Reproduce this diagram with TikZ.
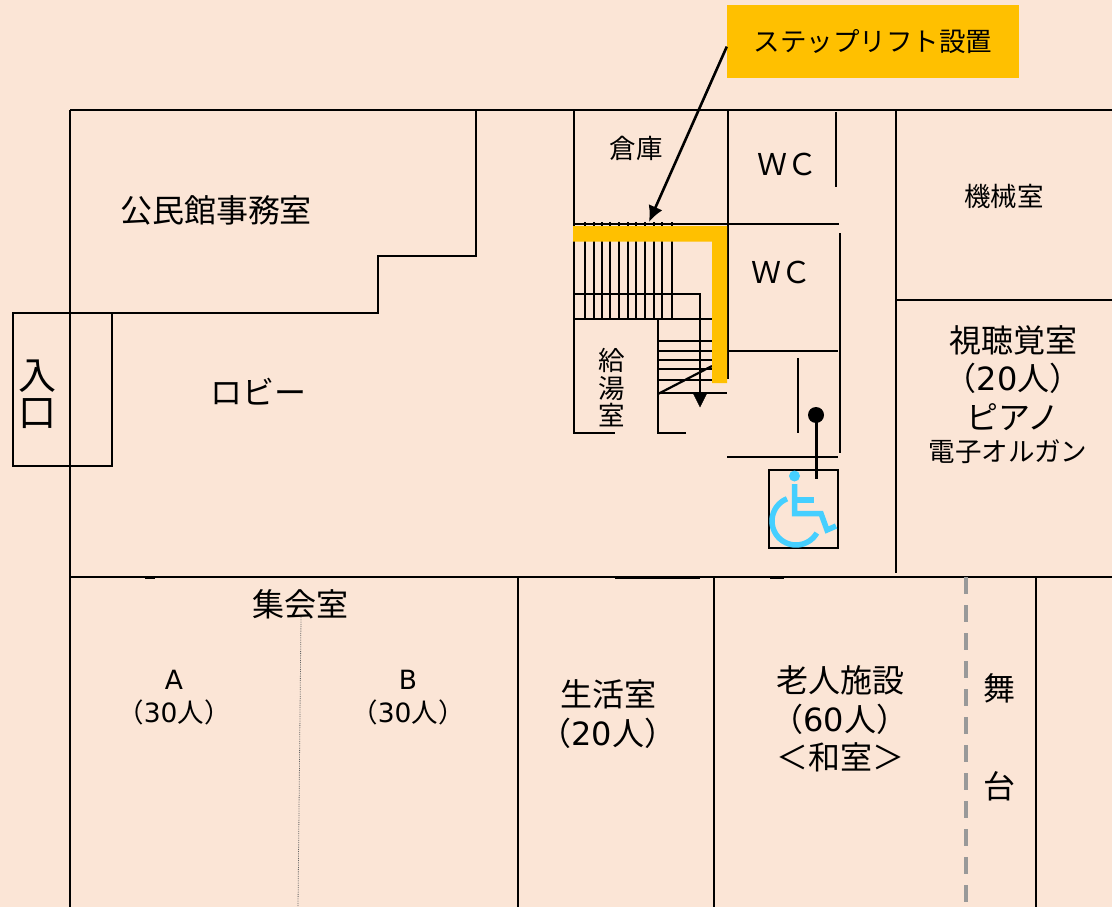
\documentclass[tikz,border=0pt]{standalone}
\usepackage{fontspec}
\usetikzlibrary{arrows.meta}
\setmainfont{DejaVu Sans}
\newfontfamily\jp{Noto Sans CJK JP}
\newcommand{\zlp}{\symbol{"FF08}}
\newcommand{\zrp}{\symbol{"FF09}}
\newcommand{\zlt}{\symbol{"FF1C}}
\newcommand{\zgt}{\symbol{"FF1E}}
\newcommand{\zwc}{\symbol{"FF37}\symbol{"FF23}}
\definecolor{floorbg}{HTML}{FBE5D6}
\definecolor{liftcol}{HTML}{FFC000}
\definecolor{chaircol}{HTML}{45CFFF}
\tikzset{
	wall/.style={black,line width=2.5pt},
	stairline/.style={black,line width=2.2pt},
	roomxl/.style={inner sep=0pt,align=center,font=\jp\fontsize{38}{37}\selectfont},
	rooml/.style={inner sep=0pt,align=center,font=\jp\fontsize{32}{38.5}\selectfont},
	roomm/.style={inner sep=0pt,align=center,font=\jp\fontsize{26.5}{33}\selectfont},
	roomwc/.style={inner sep=0pt,font=\jp\fontsize{30}{30}\selectfont},
	chair/.style={chaircol,line width=5.5pt}
}
\begin{document}
\begin{tikzpicture}[x=1pt,y=-1pt]
	\useasboundingbox (0,0) rectangle (1112,907);
	\fill[floorbg] (0,0) rectangle (1112,907);
	\draw[wall](70,110)--(1112,110);
	\draw[wall](70,110)--(70,907);
	\draw[wall](476,110)--(476,256)--(378,256)--(378,313)--(70,313);
	\draw[wall](13,313) rectangle (112,466);
	\draw[wall](70,577)--(1112,577);
	\draw[black,line width=3pt](145,577)--(155,577);
	\draw[black,line width=3pt](615,577)--(700,577);
	\draw[black,line width=3pt](770,577)--(784,577);
	\draw[wall](518,577)--(518,907);
	\draw[wall](714,577)--(714,907);
	\draw[wall](1036,577)--(1036,907);
	\draw[black!40,line width=4pt,dash pattern=on 17pt off 11pt](966,577)--(966,907);
	\draw[black!60,line width=0.8pt,densely dotted](301,617)--(298,907);
	\draw[wall](574,110)--(574,224);
	\draw[wall](574,224)--(839,224);
	\draw[wall](728,110)--(728,379);
	\draw[wall](836,112)--(836,187);
	\draw[wall](840,233)--(840,453);
	\draw[wall](728,351)--(838,351);
	\draw[wall](798,358)--(798,433);
	\draw[wall](727,457)--(838,457);
	\draw[wall](896,110)--(896,573);
	\draw[wall](896,300)--(1112,300);
	\draw[wall](574,224)--(574,433)--(615,433);
	\draw[wall](686,433)--(658,433)--(658,319);
	\draw[wall](574,294)--(700,294)--(700,395);
	\draw[wall](574,319)--(712,319);
	\foreach \stairx in {585,593.7,602.3,610.3,619,627.7,636.3,645,653.7,661.7,672.3}
		\draw[stairline](\stairx,222)--(\stairx,319);
	\foreach \stairy in {340.7,351.3,360.3,369,380}
		\draw[stairline](658,\stairy)--(712,\stairy);
	\draw[wall](658,393)--(727,393);
	\draw[stairline](658,394)--(712,366);
	\filldraw[black] (693,393)--(707,393)--(700,407)--cycle;
	\fill[liftcol] (573,226)--(727,226)--(727,383)--(712,383)--(712,241.7)--(573,241.7)--cycle;
	\draw[wall](769,470) rectangle (838,548);
	\fill[black] (816,415) circle (8);
	\draw[black,line width=3pt](816,415)--(816,479);
	\fill[chaircol] (794.5,476) circle (5.5);
	\draw[chair](794.5,484)--(794.5,513.5)--(821,513.5)--(827,530)--(836,526);
	\draw[chair](794.5,500)--(814,500);
	\draw[chair] plot[domain=248:30,samples=40] ({796+24*cos(\x)},{521+24*sin(\x)});
	\node[fill=liftcol,minimum width=292pt,minimum height=73pt,inner sep=0pt,font=\jp\fontsize{26.5}{26}\selectfont] (liftlabel) at (873,41.5) {ステップリフト設置};
	\coordinate (liftend) at (649,222);
	\draw[black,line width=2.6pt,-{Latex[length=16pt,width=15pt]}] (liftlabel.182)--(liftend);
	\node[roomxl] (entrance) at (37,394) {入\\口};
	\node[rooml] (office) at (216,210) {公民館事務室};
	\node[rooml] (lobby) at (258,392) {ロビー};
	\node[roomm] (storage) at (636,148) {倉庫};
	\node[roomwc] (wcupper) at (787,164) {\zwc};
	\node[roomwc] (wclower) at (781,272) {\zwc};
	\node[roomm] (machine) at (1004,196) {機械室};
	\node[roomm,font=\jp\fontsize{26.5}{27.5}\selectfont] (kitchen) at (612,388) {給\\湯\\室};
	\node[rooml] (av) at (1013,378) {視聴覚室\\\zlp\textrm{20}人\zrp\\ピアノ};
	\node[roomm] (organ) at (1008,452) {電子オルガン};
	\node[rooml] (hall) at (300,604) {集会室};
	\node[roomm] (rooma) at (174,698) {\textrm{A}\\\zlp\textrm{30}人\zrp};
	\node[roomm] (roomb) at (408,698) {\textrm{B}\\\zlp\textrm{30}人\zrp};
	\node[rooml] (living) at (608,714) {生活室\\\zlp\textrm{20}人\zrp};
	\node[rooml] (elder) at (840,719) {老人施設\\\zlp\textrm{60}人\zrp\\\zlt 和室\zgt};
	\node[rooml] (stagea) at (999,688) {舞};
	\node[rooml] (stageb) at (999,786) {台};
\end{tikzpicture}
\end{document}
